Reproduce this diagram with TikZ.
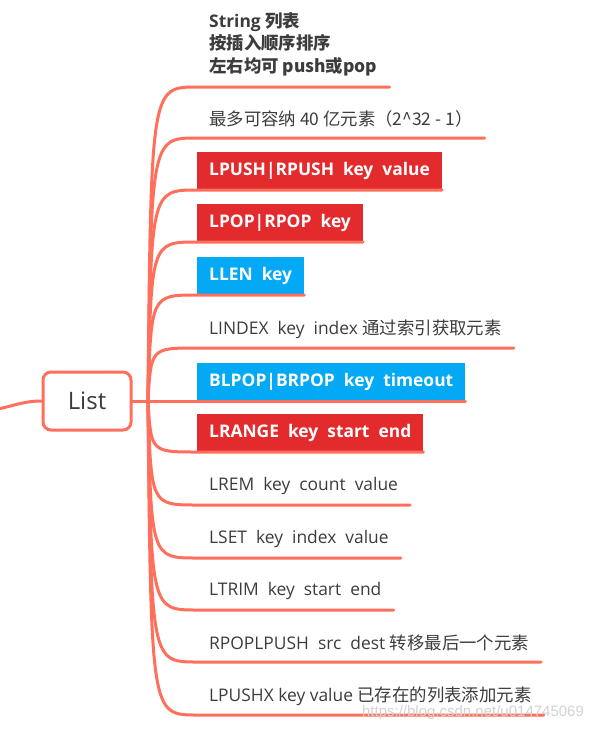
\documentclass[tikz,border=0pt]{standalone}
\usepackage{fontspec}
\setmainfont{Open Sans}
\newfontfamily\zh{Noto Sans CJK SC}
\newfontfamily\wmfont{Liberation Sans}
\usetikzlibrary{positioning,calc}
\definecolor{ramuraxm}{RGB}{255,111,91}
\definecolor{rosuxm}{RGB}{227,43,46}
\definecolor{albastruxm}{RGB}{3,169,244}
\definecolor{textxm}{RGB}{60,60,60}
\tikzset{
  radacina/.style  = {draw=ramuraxm, line width=3pt, rounded corners=8pt, fill=white,
                      minimum width=88pt, minimum height=58pt, text=textxm,
                      font=\fontsize{24}{28}\selectfont},
  subiect/.style   = {anchor=south west, inner xsep=12pt, inner ysep=0pt,
                      minimum height=38pt, text=textxm, font=\fontsize{17.4}{22.5}\selectfont},
  titlu/.style     = {subiect, align=left, inner ysep=11pt, minimum height=0pt,
                      font=\fontsize{17.4}{22.5}\selectfont\bfseries},
  cutierosie/.style    = {subiect, fill=rosuxm, text=white,
                          font=\fontsize{17.4}{22.5}\selectfont\bfseries},
  cutiealbastra/.style = {subiect, fill=albastruxm, text=white,
                          font=\fontsize{17.4}{22.5}\selectfont\bfseries},
  ramura/.style    = {draw=ramuraxm, line width=3pt, line cap=round},
  filigran/.style  = {text=gray!35, font=\wmfont\fontsize{15}{15}\selectfont, inner sep=0pt}
}
\begin{document}
\begin{tikzpicture}[x=1pt, y=1pt]
        \useasboundingbox (0,0) rectangle (600,-732);

        \node[radacina] (lista) at (87,-401) {List};
        \coordinate (j) at (148,-401);
        \coordinate (intrare) at (-2,-409);

        \node[titlu] (n1) at (197,-87) {String \zh{列表}\\ \zh{按插入顺序排序}\\ \zh{左右均可} push\zh{或}pop};
        \node[subiect] (n2) at (197,-138) {\zh{最多可容纳} 40 \zh{亿元素（}2\textasciicircum32 - 1\zh{）}};
        \node[cutierosie] (n3) at (197,-190) {LPUSH|RPUSH~~key~~value};
        \node[cutierosie] (n4) at (197,-242) {LPOP|RPOP~~key};
        \node[cutiealbastra] (n5) at (197,-295) {LLEN~~key};
        \node[subiect] (n6) at (197,-348) {LINDEX~~key~~index \zh{通过索引获取元素}};
        \node[cutiealbastra] (n7) at (197,-401) {BLPOP|BRPOP~~key~~timeout};
        \node[cutierosie] (n8) at (197,-452) {LRANGE~~key~~start~~end};
        \node[subiect] (n9) at (197,-505) {LREM~~key~~count~~value};
        \node[subiect] (n10) at (197,-558) {LSET~~key~~index~~value};
        \node[subiect] (n11) at (197,-610) {LTRIM~~key~~start~~end};
        \node[subiect] (n12) at (197,-662) {RPOPLPUSH~~src~~dest \zh{转移最后一个元素}};
        \node[subiect] (n13) at (197,-715) {LPUSHX key value \zh{已存在的列表添加元素}};

        \draw[ramura] (intrare) to[out=12, in=180] (lista.west);
        \draw[ramura] (lista.east) -- (j);
        \foreach \n in {n1,n2,n3,n4,n5,n6,n7,n8,n9,n10,n11,n12,n13}
            \draw[ramura] (j) .. controls ($(\n.south west)+(-46,0)$) .. (\n.south west) -- (\n.south east);

        \node[filigran] (wm) at (473,-713) {https://blog.csdn.net/u014745069};
    \end{tikzpicture}
\end{document}
